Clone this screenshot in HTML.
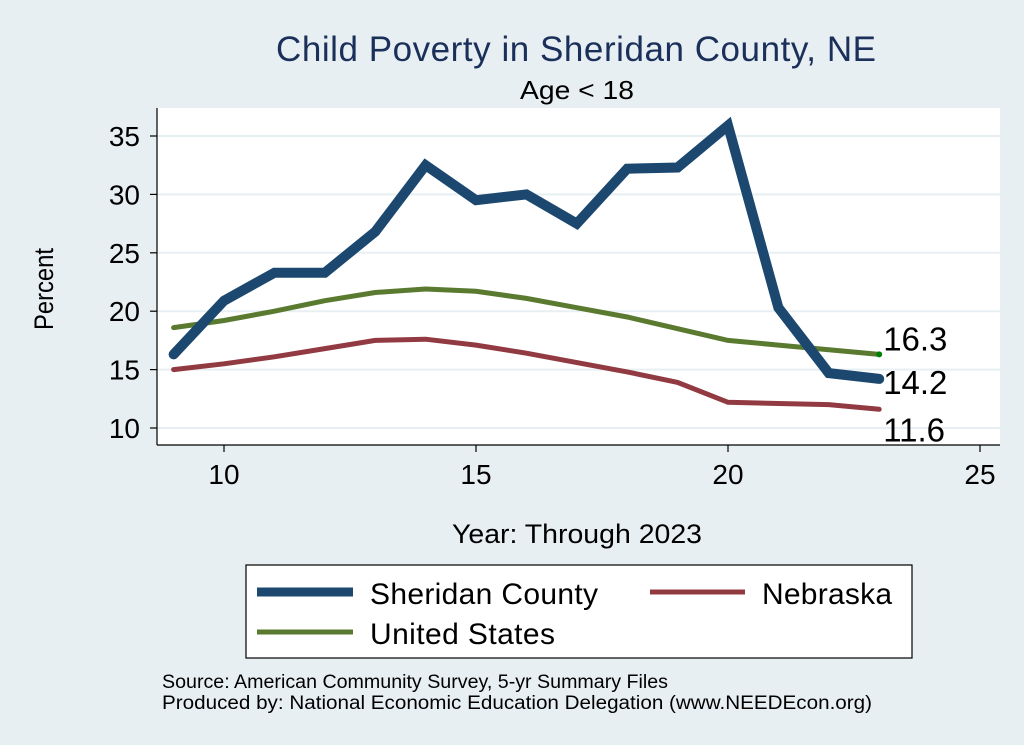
<!DOCTYPE html>
<html><head><meta charset="utf-8"><style>
body{margin:0;background:#e8eff2;}
svg{display:block;font-family:"Liberation Sans",Arial,sans-serif;}
</style></head><body>
<svg width="1024" height="745" viewBox="0 0 1024 745">
<rect x="0" y="0" width="1024" height="745" fill="#e8eff2"/>
<text x="576" y="61" font-size="35" fill="#1a2f5a" text-anchor="middle" textLength="600">Child Poverty in Sheridan County, NE</text>
<text x="577" y="99" font-size="26" fill="#000" text-anchor="middle" textLength="114" lengthAdjust="spacingAndGlyphs">Age &lt; 18</text>
<rect x="157" y="108" width="843" height="337" fill="#fff"/>
<g id="grid"></g>
<g id="axes"></g>
<g id="series"></g>
<text x="53" y="289" font-size="27" text-anchor="middle" transform="rotate(-90 53 289)" textLength="82" lengthAdjust="spacingAndGlyphs">Percent</text>
<text x="577" y="543" font-size="27" text-anchor="middle" textLength="250" lengthAdjust="spacingAndGlyphs">Year: Through 2023</text>
<g>
<rect x="246" y="565" width="666" height="93" fill="#fff" stroke="#000" stroke-width="1.2"/>
<line x1="257" y1="592" x2="353" y2="592" stroke="#1c4870" stroke-width="9"/>
<text x="370" y="604" font-size="30" textLength="228">Sheridan County</text>
<line x1="650" y1="592" x2="745" y2="592" stroke="#923a42" stroke-width="5"/>
<text x="762" y="604" font-size="30" textLength="130">Nebraska</text>
<line x1="257" y1="632" x2="353" y2="632" stroke="#5a7a30" stroke-width="5"/>
<text x="370" y="644" font-size="30" textLength="185">United States</text>
</g>
<text x="162" y="688" font-size="19" textLength="506" lengthAdjust="spacingAndGlyphs">Source: American Community Survey, 5-yr Summary Files</text>
<text x="162" y="709" font-size="19" textLength="710" lengthAdjust="spacingAndGlyphs">Produced by: National Economic Education Delegation (www.NEEDEcon.org)</text>
</svg>
<script>
const years=[9,10,11,12,13,14,15,16,17,18,19,20,21,22,23];
const sheridan=[16.3,20.9,23.3,23.3,26.8,32.5,29.5,30.0,27.5,32.2,32.3,35.9,20.3,14.7,14.2];
const unitedStates=[18.6,19.2,20.0,20.9,21.6,21.9,21.7,21.1,20.3,19.5,18.5,17.5,17.1,16.7,16.3];
const nebraska=[15.0,15.5,16.1,16.8,17.5,17.6,17.1,16.4,15.6,14.8,13.9,12.2,12.1,12.0,11.6];
const yTicks=[10,15,20,25,30,35];
const xTicks=[10,15,20,25];
const endLabels=["16.3","14.2","11.6"];

const NS="http://www.w3.org/2000/svg";
const xs=v=>224+(v-10)*50.4;
const ys=v=>428-(v-10)*11.68;
function mk(tag,attrs,parent,txt){const e=document.createElementNS(NS,tag);for(const k in attrs)e.setAttribute(k,attrs[k]);if(txt!==undefined)e.textContent=txt;parent.appendChild(e);return e;}
const grid=document.getElementById('grid'),axes=document.getElementById('axes'),ser=document.getElementById('series');
yTicks.forEach(t=>{
  const g=mk('line',{x1:157,x2:1000,y1:ys(t),y2:ys(t),stroke:'#e8eff2','stroke-width':2},grid);
  
  
  const tk=mk('line',{x1:150,x2:157,y1:ys(t),y2:ys(t),stroke:'#000','stroke-width':1.2},axes);
  
  
  const lb=mk('text',{x:140,y:ys(t)+10,'font-size':28,'text-anchor':'end'},axes,String(t));
  
  
});
xTicks.forEach(t=>{
  const tk=mk('line',{x1:xs(t),x2:xs(t),y1:445,y2:452,stroke:'#000','stroke-width':1.2},axes);
  
  
  const lb=mk('text',{x:xs(t),y:484,'font-size':28,'text-anchor':'middle'},axes,String(t));
  
  
});
const ya=mk('line',{x1:157,x2:157,y1:108,y2:445,stroke:'#000','stroke-width':1.2},axes);


const xa=mk('line',{x1:157,x2:1000,y1:445,y2:445,stroke:'#000','stroke-width':1.2},axes);


function line(vals,color,w,name){
  const d=vals.map((v,i)=>(i?'L':'M')+xs(years[i]).toFixed(1)+','+ys(v).toFixed(1)).join('');
  const p=mk('path',{d:d,fill:'none',stroke:color,'stroke-width':w,'stroke-linejoin':'miter','stroke-linecap':'round'},ser);
  
  
}
line(nebraska,'#923a42',5,'line-nebraska');
line(unitedStates,'#5a7a30',5,'line-united-states');
line(sheridan,'#1c4870',10,'line-sheridan-county');
const last=years.length-1;
const dot=mk('circle',{cx:xs(years[last]),cy:ys(unitedStates[last]),r:3,fill:'#008000'},ser);


[[unitedStates,-4],[sheridan,15],[nebraska,32]].forEach((s,i)=>{
  const t=mk('text',{x:xs(years[last])+4,y:ys(s[0][last])+s[1],'font-size':33},ser,endLabels[i]);
  
  
});
</script>
</body></html>
